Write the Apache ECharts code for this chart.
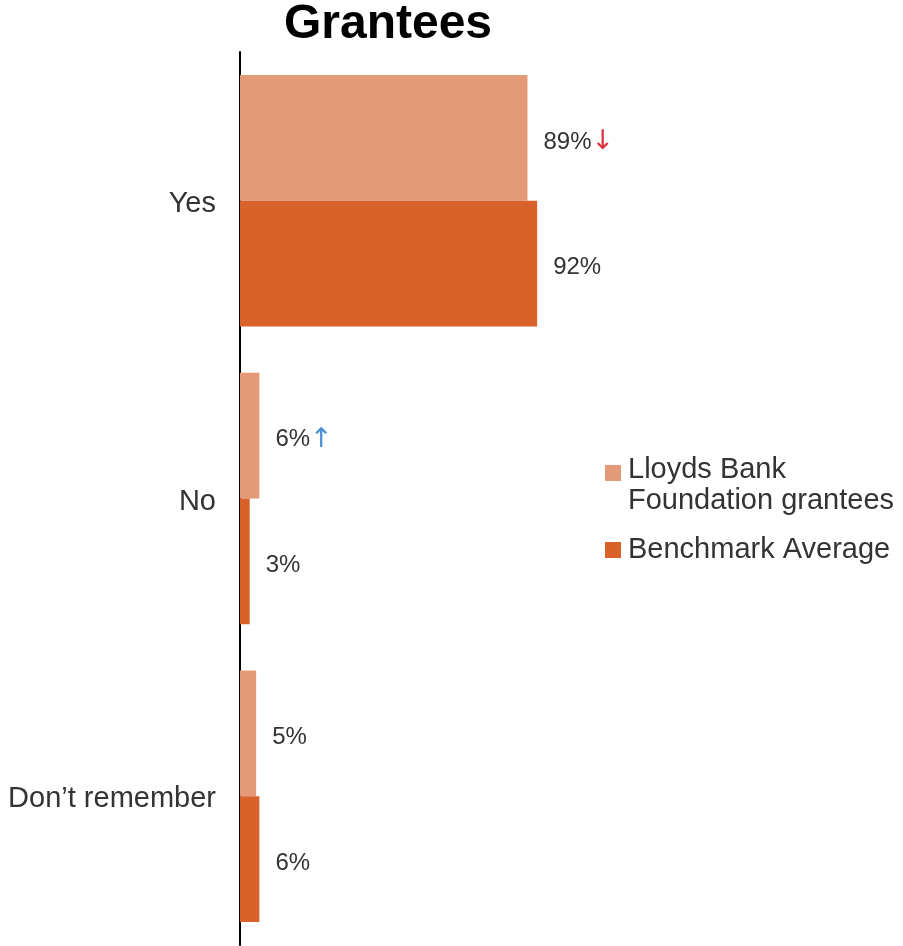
<!DOCTYPE html>
<html>
<head>
<meta charset="utf-8">
<script src="https://cdn.jsdelivr.net/npm/echarts@6/dist/echarts.min.js"></script>
<style>
  html, body { margin: 0; padding: 0; background: #fff; }
  #chart { width: 903px; height: 946px; }
</style>
</head>
<body>
<div id="chart"></div>
<script>
// 数据
var categories = ['Yes', 'No', 'Don\u2019t remember'];
var grantees = [89, 6, 5];
var benchmark = [92, 3, 6];
// 变化箭头：down / up / 空
var granteeArrows = ['down', 'up', ''];

var chart = echarts.init(document.getElementById('chart'));

// 图例图标：方块对齐第一行文字（路径外框为 16x40）
var iconTop = 'path://M0,0H16V16H0Z M0,39.8H0.2V40H0Z';
var iconMid = 'path://M0,0H0.2V0.2H0Z M0,12H16V28H0Z M0,39.8H0.2V40H0Z';

var option = {
  backgroundColor: '#ffffff',
  title: {
    text: 'Grantees',
    left: 388,
    textAlign: 'center',
    top: 1,
    padding: 0,
    textStyle: {
      fontFamily: 'Liberation Sans',
      fontSize: 48,
      fontWeight: 'bold',
      color: '#000'
    }
  },
  legend: {
    orient: 'vertical',
    left: 605,
    top: 454,
    padding: 0,
    itemWidth: 16,
    itemHeight: 40,
    itemGap: 14,
    textStyle: {
      fontFamily: 'Liberation Sans',
      fontSize: 29,
      color: '#333',
      lineHeight: 31,
      padding: [0, 0, 0, 2]
    },
    data: [
      { name: 'Lloyds Bank\nFoundation grantees', icon: iconTop },
      { name: 'Benchmark Average', icon: iconMid }
    ]
  },
  grid: {
    left: 240,
    top: 52,
    width: 323,
    bottom: 1
  },
  xAxis: {
    type: 'value',
    min: 0,
    max: 100,
    show: false
  },
  yAxis: {
    type: 'category',
    data: categories,
    inverse: true,
    axisLine: { show: true, lineStyle: { color: '#000', width: 2 } },
    axisTick: { show: false },
    axisLabel: {
      margin: 24,
      formatter: function (v) { return '{c|' + v + '}'; },
      rich: {
        c: {
          fontFamily: 'Liberation Sans',
          fontSize: 29,
          color: '#333',
          padding: [6, 0, 0, 0]
        }
      }
    }
  },
  series: [{
    name: 'Lloyds Bank\nFoundation grantees',
    type: 'bar',
    data: grantees,
    barGap: '0%',
    barCategoryGap: '15.5%',
    itemStyle: { color: '#E59A77' },
    label: {
      show: true,
      position: 'right',
      distance: 16,
      offset: [0, 4],
      fontFamily: 'Liberation Sans',
      fontSize: 24,
      color: '#333',
      formatter: function (p) {
        var a = granteeArrows[p.dataIndex];
        if (a === 'down') return p.value + '%{down|\u2193}';
        if (a === 'up') return p.value + '%{up|\u2191}';
        return p.value + '%';
      },
      rich: {
        down: { color: '#D9343F', fontSize: 27, fontFamily: 'DejaVu Sans' },
        up: { color: '#4A8FD8', fontSize: 27, fontFamily: 'DejaVu Sans' }
      }
    }
  }, {
    name: 'Benchmark Average',
    type: 'bar',
    data: benchmark,
    itemStyle: { color: '#D9622B' },
    label: {
      show: true,
      position: 'right',
      distance: 16,
      offset: [0, 4],
      fontFamily: 'Liberation Sans',
      fontSize: 24,
      color: '#333',
      formatter: '{c}%'
    }
  }]
};

chart.setOption(option);
</script>
</body>
</html>
